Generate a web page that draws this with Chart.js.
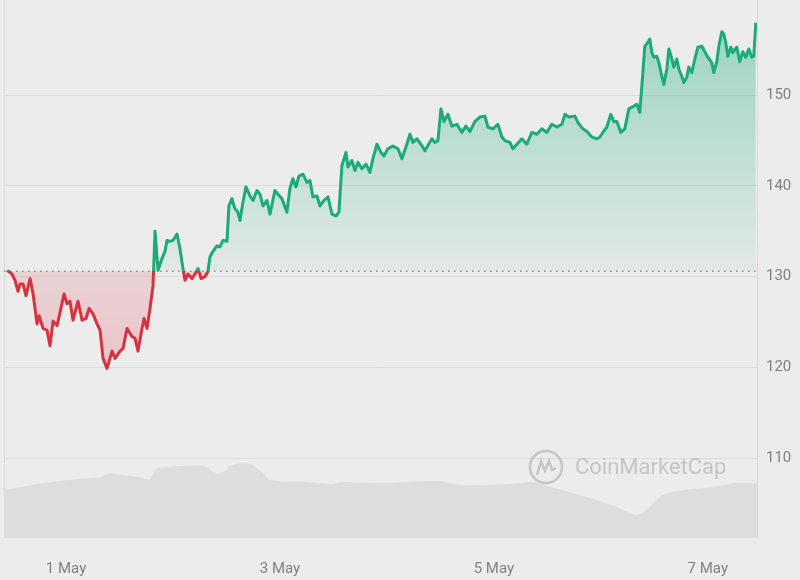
<!DOCTYPE html>
<html>
<head>
<meta charset="utf-8">
<title>Price chart</title>
<script src="https://cdn.jsdelivr.net/npm/chart.js"></script>
<style>
  html, body { margin: 0; padding: 0; background: #ececec; }
  #wrap { width: 800px; height: 580px; }
</style>
</head>
<body>
<div id="wrap"><canvas id="myChart" width="800" height="580"></canvas></div>
<script>
// price series, x in days since 1 May 00:00
const days = [-0.551,-0.505,-0.477,-0.449,-0.430,-0.402,-0.374,-0.336,-0.308,-0.271,-0.252,-0.215,-0.178,-0.150,-0.121,-0.084,-0.065,-0.019,0.009,0.037,0.065,0.112,0.150,0.187,0.215,0.252,0.290,0.318,0.346,0.383,0.430,0.458,0.505,0.533,0.570,0.617,0.645,0.673,0.710,0.729,0.757,0.785,0.813,0.832,0.860,0.897,0.925,0.944,0.972,1.000,1.037,1.065,1.093,1.112,1.140,1.178,1.206,1.234,1.262,1.299,1.327,1.346,1.374,1.411,1.439,1.467,1.505,1.523,1.551,1.579,1.607,1.626,1.654,1.682,1.720,1.748,1.785,1.813,1.841,1.879,1.907,1.953,1.981,2.019,2.065,2.093,2.121,2.150,2.178,2.215,2.252,2.280,2.308,2.346,2.374,2.411,2.449,2.486,2.523,2.551,2.579,2.617,2.636,2.673,2.701,2.729,2.766,2.804,2.841,2.869,2.907,2.944,2.972,3.009,3.056,3.103,3.140,3.178,3.215,3.243,3.280,3.318,3.355,3.421,3.449,3.477,3.505,3.533,3.570,3.607,3.654,3.701,3.738,3.776,3.822,3.869,3.916,3.944,3.991,4.037,4.075,4.103,4.150,4.178,4.215,4.262,4.308,4.355,4.402,4.449,4.495,4.542,4.589,4.636,4.664,4.701,4.757,4.785,4.832,4.869,4.916,4.963,4.991,5.019,5.056,5.093,5.121,5.150,5.187,5.224,5.262,5.308,5.336,5.364,5.393,5.411,5.439,5.458,5.477,5.495,5.523,5.542,5.570,5.589,5.617,5.636,5.664,5.682,5.710,5.729,5.757,5.776,5.804,5.822,5.850,5.879,5.907,5.944,5.972,6.000,6.037,6.056,6.084,6.103,6.131,6.150,6.168,6.187,6.215,6.234,6.271,6.299,6.327,6.355,6.383,6.411,6.430,6.449]
const prices = [130.7,130.3,129.6,128.4,129.2,129.2,127.9,129.8,128.1,124.8,125.7,124.3,124.1,122.4,125.1,124.6,125.6,128.1,127.0,127.3,125.2,127.3,125.2,125.4,126.5,125.9,124.8,124.1,121.0,119.9,121.8,121.0,121.8,122.1,124.3,123.4,123.2,121.8,124.3,125.4,124.3,126.5,129.0,135.0,130.7,132.0,132.8,134.0,133.9,134.0,134.7,133.1,130.9,129.6,130.3,129.8,130.3,130.9,129.8,130.0,130.6,132.2,132.8,133.4,133.3,134.0,133.9,137.8,138.6,137.5,137.1,136.2,138.2,139.9,138.9,138.4,139.5,139.1,137.8,138.4,136.9,139.5,139.1,138.6,137.1,139.7,140.8,139.9,141.1,141.3,140.4,140.6,138.8,138.9,137.8,138.4,138.8,136.9,136.7,137.1,142.2,143.7,142.1,142.8,141.7,142.6,141.9,142.4,141.5,143.0,144.6,143.7,143.3,144.1,144.4,144.1,143.0,144.3,145.7,144.8,145.2,144.6,143.9,145.2,144.8,145.0,148.5,147.1,147.9,146.6,146.8,145.9,146.6,146.0,147.1,147.6,147.7,146.5,146.3,146.8,145.4,145.0,144.8,144.1,144.6,145.2,144.6,145.9,145.7,146.3,145.9,146.8,146.5,146.8,147.9,147.6,147.7,147.0,146.3,146.0,145.4,145.2,145.4,145.9,146.5,147.9,147.1,147.1,145.9,146.3,148.5,148.8,149.0,148.1,152.5,155.4,155.8,156.2,154.7,154.2,154.3,153.6,152.1,151.2,152.9,155.1,154.0,153.1,154.0,152.9,152.1,151.4,152.0,153.1,152.5,154.0,155.3,155.4,154.8,154.2,153.6,152.5,153.7,155.4,157.0,156.7,155.8,154.3,155.3,154.7,155.3,153.7,154.8,154.2,155.1,154.2,154.3,158.0]
const basePrice = 130.6

// volume (millions), separate hidden axis
const volDays = [-0.58,-0.327,-0.140,0.103,0.336,0.383,0.523,0.673,0.785,0.841,0.953,1.290,1.383,1.458,1.551,1.720,1.841,1.907,2.243,2.486,2.579,2.963,3.486,3.673,4.150,4.393,4.533,4.869,5.103,5.318,5.393,5.579,5.776,6.056,6.252,6.46]
const volumes = [24,26.5,28,29.5,30.5,32.5,31.5,30.5,29.5,34.5,35.5,36,33,32.5,36.5,37,32.5,29,28,27,28,27.5,28.5,26.5,27,28,25.5,20.5,16.5,11.5,12.5,21.5,24,25.5,27.5,27.5]

const dayTicks = [0, 2, 4, 6]
const dayLabels = ['1 May', '3 May', '5 May', '7 May']
const priceTicks = [110, 120, 130, 140, 150]

const GREEN = '#1aab77'
const RED = '#d8323f'

function splitGradient (chart, top, bottom) {
  const { ctx, chartArea, scales } = chart
  if (!chartArea) return null
  const yb = scales.y.getPixelForValue(basePrice)
  const h = chartArea.bottom - chartArea.top
  const stop = Math.min(Math.max((yb - chartArea.top) / h, 0), 1)
  const g = ctx.createLinearGradient(0, chartArea.top, 0, chartArea.bottom)
  g.addColorStop(0, top[0])
  g.addColorStop(stop, top[1])
  g.addColorStop(stop, bottom[0])
  g.addColorStop(1, bottom[1])
  return g
}

const extras = {
  id: 'extras',
  beforeDatasetsDraw (chart) {
    const { ctx, chartArea: a } = chart
    ctx.save()
    ctx.strokeStyle = '#d9d9d9'
    ctx.lineWidth = 1
    ctx.beginPath()
    ctx.moveTo(a.left + 0.5, a.top)
    ctx.lineTo(a.left + 0.5, a.bottom)
    ctx.stroke()
    // watermark
    const cx = a.right - 211
    const cy = a.bottom - 71
    ctx.strokeStyle = 'rgba(150,150,150,0.45)'
    ctx.lineWidth = 2.5
    ctx.beginPath()
    ctx.arc(cx, cy, 16, 0, Math.PI * 2)
    ctx.stroke()
    ctx.beginPath()
    ctx.moveTo(cx - 9, cy + 8)
    ctx.lineTo(cx - 5, cy - 6)
    ctx.lineTo(cx - 1, cy + 4)
    ctx.lineTo(cx + 3, cy - 6)
    ctx.lineTo(cx + 6, cy + 3)
    ctx.lineTo(cx + 10, cy + 1)
    ctx.stroke()
    ctx.fillStyle = 'rgba(150,150,150,0.45)'
    ctx.font = '22px Roboto'
    ctx.textBaseline = 'middle'
    ctx.textAlign = 'left'
    ctx.fillText('CoinMarketCap', cx + 29, cy + 1)
    ctx.restore()
  }
}

const xMin = -0.58
const xMax = 6.46

const ctx = document.getElementById('myChart').getContext('2d')
const myChart = new Chart(ctx, {
  type: 'line',
  data: {
    datasets: [{
      label: 'Price',
      data: days.map((d, i) => ({ x: d, y: prices[i] })),
      yAxisID: 'y',
      order: 0,
      borderWidth: 3,
      pointRadius: 0,
      tension: 0,
      borderJoinStyle: 'round',
      borderColor: c => splitGradient(c.chart, [GREEN, GREEN], [RED, RED]) || GREEN,
      backgroundColor: c => splitGradient(c.chart,
        ['rgba(29,176,123,0.42)', 'rgba(29,176,123,0.05)'],
        ['rgba(220,53,69,0.14)', 'rgba(220,53,69,0.32)']) || 'transparent',
      fill: { target: { value: basePrice } }
    }, {
      label: 'Base',
      data: [{ x: xMin, y: basePrice }, { x: xMax, y: basePrice }],
      yAxisID: 'y',
      order: 1,
      borderColor: '#8e8e8e',
      borderWidth: 1.5,
      borderDash: [1.5, 4.5],
      pointRadius: 0,
      fill: false
    }, {
      label: 'Volume',
      data: volDays.map((d, i) => ({ x: d, y: volumes[i] })),
      yAxisID: 'yv',
      order: 2,
      borderWidth: 0,
      pointRadius: 0,
      tension: 0.3,
      backgroundColor: '#dcdddd',
      fill: 'origin'
    }]
  },
  options: {
    responsive: false,
    animation: false,
    layout: { padding: { left: 4, top: 0, right: 0, bottom: 0 } },
    plugins: { legend: { display: false }, tooltip: { enabled: false } },
    scales: {
      x: {
        type: 'linear',
        min: xMin,
        max: xMax,
        afterBuildTicks: scale => { scale.ticks = dayTicks.map(v => ({ value: v })) },
        afterFit: scale => {
          scale.height = 42
          scale.paddingLeft = 0
          scale.paddingRight = 0
        },
        grid: { display: false, drawTicks: false },
        border: { display: false },
        ticks: {
          padding: 22,
          color: '#808080',
          font: { family: 'Roboto', size: 15 },
          maxRotation: 0,
          callback: v => dayLabels[dayTicks.indexOf(v)] || ''
        }
      },
      y: {
        position: 'right',
        min: 101.2,
        max: 160.5,
        afterBuildTicks: scale => { scale.ticks = priceTicks.map(v => ({ value: v })) },
        afterFit: scale => {
          scale.width = 43
          scale.paddingTop = 0
          scale.paddingBottom = 0
        },
        grid: { color: '#dcdcdc', drawTicks: false },
        border: { display: true, color: '#d9d9d9' },
        ticks: {
          padding: 9,
          color: '#808080',
          font: { family: 'Roboto', size: 15 }
        }
      },
      yv: {
        display: false,
        min: 0,
        max: 269
      }
    }
  },
  plugins: [extras]
})
</script>
</body>
</html>
